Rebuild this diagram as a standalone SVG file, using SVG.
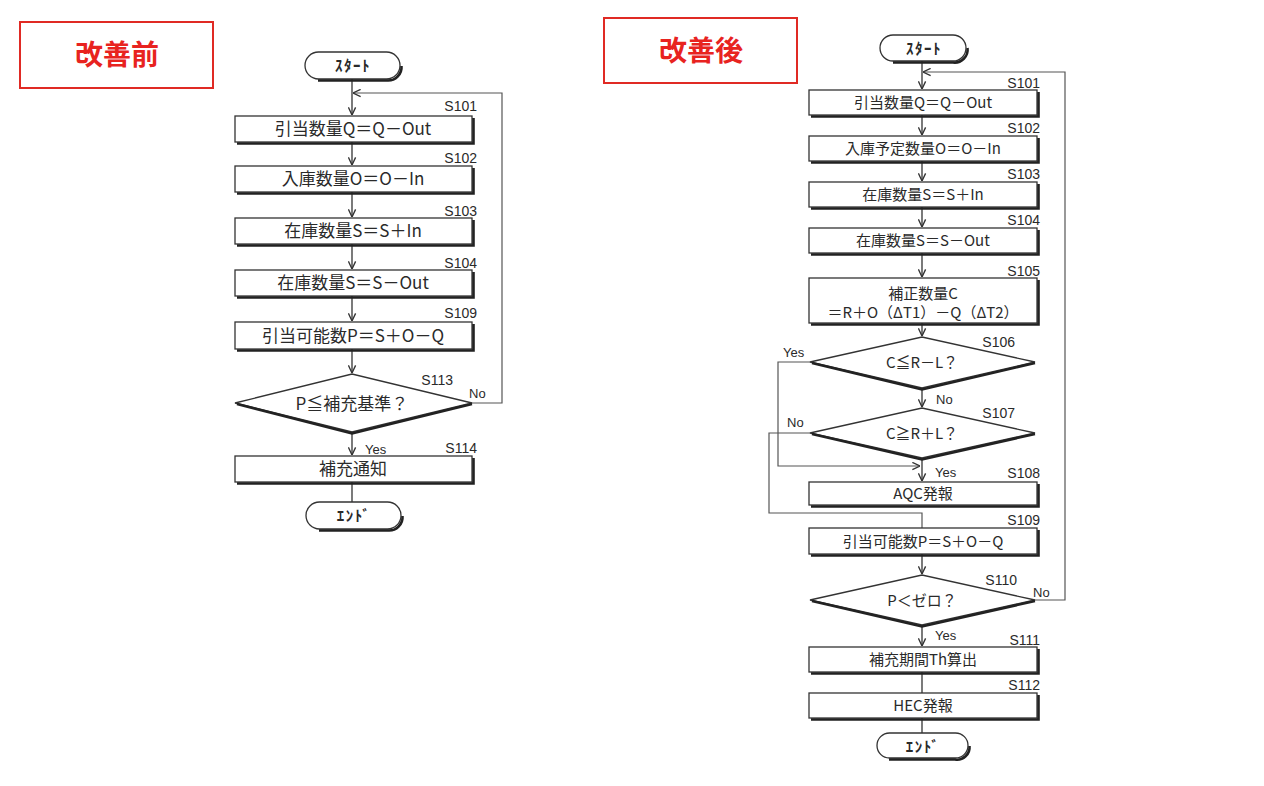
<svg xmlns="http://www.w3.org/2000/svg" width="1264" height="786" viewBox="0 0 1264 786">
<style>
.bg{fill:#fff}
.hdr{fill:none;stroke:#e02a24;stroke-width:2}
.ht{font-family:"Noto Sans CJK JP","Noto Sans CJK SC",sans-serif;font-weight:bold;font-size:28px;fill:#e8231f;text-anchor:middle}
.box{fill:#fff;stroke:#333;stroke-width:1.3}
.sh{fill:none;stroke:#222;stroke-width:2.6}
.t{font-family:"Noto Sans CJK JP","Noto Sans CJK SC",sans-serif;font-size:17px;fill:#2a2a2a;text-anchor:middle}
.t2{font-family:"Noto Sans CJK JP","Noto Sans CJK SC",sans-serif;font-size:15px;fill:#2a2a2a;text-anchor:middle}
.tt{font-family:"Noto Sans CJK JP","Noto Sans CJK SC",sans-serif;font-size:15px;font-weight:bold;letter-spacing:1.5px;fill:#2a2a2a;text-anchor:middle}
.lbl{font-family:"Liberation Sans",Arial,sans-serif;font-size:14px;fill:#2a2a2a;text-anchor:end}
.yn{font-family:"Liberation Sans",Arial,sans-serif;font-size:13px;fill:#2a2a2a}
.ln{fill:none;stroke:#333;stroke-width:1.3}
.lp{fill:none;stroke:#555;stroke-width:1.2}
</style>
<defs>
<marker id="ah" viewBox="0 0 10 10" refX="9.5" refY="5" markerWidth="9" markerHeight="9" markerUnits="userSpaceOnUse" orient="auto">
<path d="M1,1 L9.5,5 L1,9" fill="none" stroke="#333" stroke-width="1.5"/>
</marker>
</defs>
<rect class="bg" x="0" y="0" width="1264" height="786"/>

<g id="hdr-before"><rect class="hdr" x="20" y="22" width="193" height="66"/><text class="ht" x="117" y="65">改善前</text></g>
<g id="hdr-after"><rect class="hdr" x="604" y="18" width="193" height="65"/><text class="ht" x="701" y="61">改善後</text></g>

<!-- connectors -->
<g id="connectors">
<!-- left -->
<line class="ln" x1="352" y1="79" x2="352" y2="115" marker-end="url(#ah)"/>
<polyline class="lp" points="472,403 502,403 502,93 353,93" marker-end="url(#ah)"/>
<line class="ln" x1="352" y1="142" x2="352" y2="165" marker-end="url(#ah)"/>
<line class="ln" x1="352" y1="192" x2="352" y2="217" marker-end="url(#ah)"/>
<line class="ln" x1="352" y1="244" x2="352" y2="269" marker-end="url(#ah)"/>
<line class="ln" x1="352" y1="296" x2="352" y2="321" marker-end="url(#ah)"/>
<line class="ln" x1="352" y1="349" x2="352" y2="373" marker-end="url(#ah)"/>
<line class="ln" x1="352" y1="432" x2="352" y2="455" marker-end="url(#ah)"/>
<line class="ln" x1="352" y1="482" x2="352" y2="502"/>
<!-- right -->
<line class="ln" x1="922" y1="61" x2="922" y2="89" marker-end="url(#ah)"/>
<polyline class="lp" points="1035,600 1065,600 1065,72 923,72" marker-end="url(#ah)"/>
<line class="ln" x1="922" y1="115" x2="922" y2="135" marker-end="url(#ah)"/>
<line class="ln" x1="922" y1="161" x2="922" y2="181" marker-end="url(#ah)"/>
<line class="ln" x1="922" y1="207" x2="922" y2="227" marker-end="url(#ah)"/>
<line class="ln" x1="922" y1="253" x2="922" y2="277" marker-end="url(#ah)"/>
<line class="ln" x1="922" y1="323" x2="922" y2="336" marker-end="url(#ah)"/>
<line class="ln" x1="922" y1="388" x2="922" y2="407" marker-end="url(#ah)"/>
<line class="ln" x1="922" y1="458" x2="922" y2="481" marker-end="url(#ah)"/>
<polyline class="lp" points="810,362 778,362 778,466 920,466" marker-end="url(#ah)"/>
<polyline class="lp" points="810,433 769,433 769,513 922,513 922,528"/>
<line class="ln" x1="922" y1="554" x2="922" y2="574" marker-end="url(#ah)"/>
<line class="ln" x1="922" y1="625" x2="922" y2="646" marker-end="url(#ah)"/>
<line class="ln" x1="922" y1="672" x2="922" y2="693"/>
<line class="ln" x1="922" y1="718" x2="922" y2="733"/>
</g>

<!-- left chart nodes -->
<g id="L-start"><rect class="box" x="305" y="52" width="95" height="27" rx="13.5"/><path class="sh" d="M318,80.5 H387 A13.5,13.5 0 0 0 401.5,66"/><text class="tt" x="353" y="71">ｽﾀｰﾄ</text></g>
<g id="L-S101"><rect class="box" x="235" y="116" width="237" height="26"/><path class="sh" d="M237,143.5 H473.5 V118"/><text class="t" x="353" y="135">引当数量Q＝Q－Out</text><text class="lbl" x="477" y="111">S101</text></g>
<g id="L-S102"><rect class="box" x="235" y="166" width="237" height="26"/><path class="sh" d="M237,193.5 H473.5 V168"/><text class="t" x="353" y="185">入庫数量O＝O－In</text><text class="lbl" x="477" y="163">S102</text></g>
<g id="L-S103"><rect class="box" x="235" y="218" width="237" height="26"/><path class="sh" d="M237,245.5 H473.5 V220"/><text class="t" x="353" y="237">在庫数量S＝S＋In</text><text class="lbl" x="477" y="216">S103</text></g>
<g id="L-S104"><rect class="box" x="235" y="270" width="237" height="26"/><path class="sh" d="M237,297.5 H473.5 V272"/><text class="t" x="353" y="289">在庫数量S＝S－Out</text><text class="lbl" x="477" y="268">S104</text></g>
<g id="L-S109"><rect class="box" x="235" y="322" width="237" height="27"/><path class="sh" d="M237,350.5 H473.5 V324"/><text class="t" x="353" y="342">引当可能数P＝S＋O－Q</text><text class="lbl" x="477" y="318">S109</text></g>
<g id="L-S113"><polygon class="box" points="235,403 352,374 472,403 352,432"/><path class="sh" d="M237,404 L352,433.5 L472,404"/><text class="t" x="352" y="410">P≦補充基準？</text><text class="lbl" x="453" y="385">S113</text><text class="yn" x="469" y="398">No</text><text class="yn" x="365" y="454">Yes</text></g>
<g id="L-S114"><rect class="box" x="235" y="456" width="237" height="26"/><path class="sh" d="M237,483.5 H473.5 V458"/><text class="t" x="353" y="475">補充通知</text><text class="lbl" x="477" y="453">S114</text></g>
<g id="L-end"><rect class="box" x="306" y="502" width="95" height="27" rx="13.5"/><path class="sh" d="M319,530.5 H388 A13.5,13.5 0 0 0 402.5,516"/><text class="tt" x="354" y="521">ｴﾝﾄﾞ</text></g>

<!-- right chart nodes -->
<g id="R-start"><rect class="box" x="880" y="35" width="86" height="26" rx="13"/><path class="sh" d="M893,62.5 H953 A13,13 0 0 0 967.5,48"/><text class="tt" x="924" y="54">ｽﾀｰﾄ</text></g>
<g id="R-S101"><rect class="box" x="809" y="90" width="228" height="25"/><path class="sh" d="M811,116.5 H1038.5 V92"/><text class="t2" x="923" y="108">引当数量Q＝Q－Out</text><text class="lbl" x="1040" y="88">S101</text></g>
<g id="R-S102"><rect class="box" x="809" y="136" width="228" height="25"/><path class="sh" d="M811,162.5 H1038.5 V138"/><text class="t2" x="923" y="154">入庫予定数量O＝O－In</text><text class="lbl" x="1040" y="133">S102</text></g>
<g id="R-S103"><rect class="box" x="809" y="182" width="228" height="25"/><path class="sh" d="M811,208.5 H1038.5 V184"/><text class="t2" x="923" y="200">在庫数量S＝S＋In</text><text class="lbl" x="1040" y="179">S103</text></g>
<g id="R-S104"><rect class="box" x="809" y="228" width="228" height="25"/><path class="sh" d="M811,254.5 H1038.5 V230"/><text class="t2" x="923" y="246">在庫数量S＝S－Out</text><text class="lbl" x="1040" y="225">S104</text></g>
<g id="R-S105"><rect class="box" x="809" y="278" width="228" height="45"/><path class="sh" d="M811,324.5 H1038.5 V280"/><text class="t2" x="923" y="299">補正数量C</text><text class="t2" x="923" y="318">＝R＋O（ΔT1）－Q（ΔT2）</text><text class="lbl" x="1040" y="276">S105</text></g>
<g id="R-S106"><polygon class="box" points="810,362 922,337 1035,362 922,388"/><path class="sh" d="M812,363 L922,389.5 L1035,363"/><text class="t2" x="922" y="368">C≦R－L？</text><text class="lbl" x="1015" y="347">S106</text><text class="yn" x="783" y="357">Yes</text><text class="yn" x="936" y="404">No</text></g>
<g id="R-S107"><polygon class="box" points="810,433 922,408 1035,433 922,458"/><path class="sh" d="M812,434 L922,459.5 L1035,434"/><text class="t2" x="922" y="439">C≧R＋L？</text><text class="lbl" x="1015" y="418">S107</text><text class="yn" x="787" y="427">No</text><text class="yn" x="935" y="477">Yes</text></g>
<g id="R-S108"><rect class="box" x="809" y="482" width="228" height="23"/><path class="sh" d="M811,506.5 H1038.5 V484"/><text class="t2" x="923" y="499">AQC発報</text><text class="lbl" x="1040" y="478">S108</text></g>
<g id="R-S109"><rect class="box" x="809" y="528" width="228" height="26"/><path class="sh" d="M811,555.5 H1038.5 V530"/><text class="t2" x="923" y="547">引当可能数P＝S＋O－Q</text><text class="lbl" x="1040" y="525">S109</text></g>
<g id="R-S110"><polygon class="box" points="810,600 922,575 1035,600 922,625"/><path class="sh" d="M812,601 L922,626.5 L1035,601"/><text class="t2" x="922" y="606">P＜ゼロ？</text><text class="lbl" x="1017" y="585">S110</text><text class="yn" x="1033" y="597">No</text><text class="yn" x="935" y="640">Yes</text></g>
<g id="R-S111"><rect class="box" x="809" y="647" width="228" height="25"/><path class="sh" d="M811,673.5 H1038.5 V649"/><text class="t2" x="923" y="665">補充期間Th算出</text><text class="lbl" x="1040" y="645">S111</text></g>
<g id="R-S112"><rect class="box" x="809" y="693" width="228" height="25"/><path class="sh" d="M811,719.5 H1038.5 V695"/><text class="t2" x="923" y="711">HEC発報</text><text class="lbl" x="1040" y="690">S112</text></g>
<g id="R-end"><rect class="box" x="877" y="733" width="91" height="25" rx="12.5"/><path class="sh" d="M889,759.5 H955 A12.5,12.5 0 0 0 969.5,746"/><text class="tt" x="923" y="752">ｴﾝﾄﾞ</text></g>
</svg>
